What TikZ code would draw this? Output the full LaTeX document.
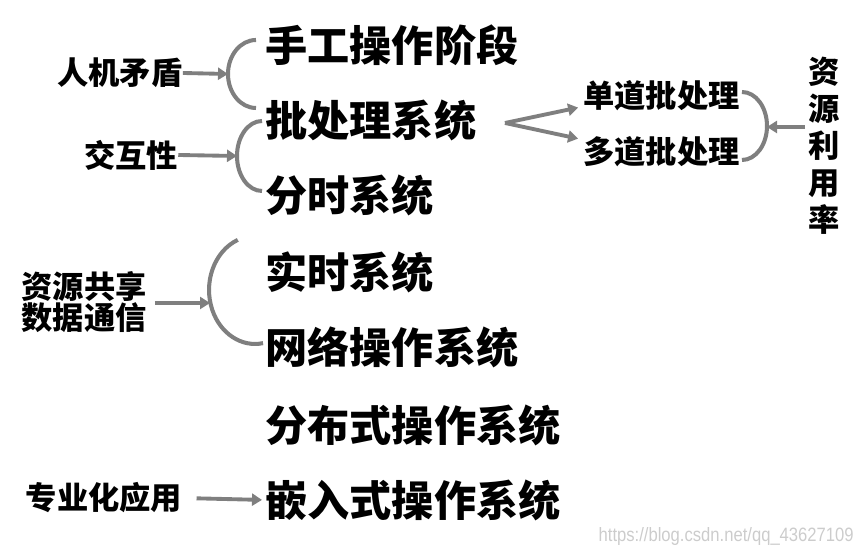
\documentclass[tikz,border=0pt]{standalone}
\usepackage{fontspec}
\setmainfont{Noto Sans CJK SC}[BoldFont={Noto Sans CJK SC Black}]
\newfontfamily\latinfont{Liberation Sans}
\usetikzlibrary{arrows.meta}
\definecolor{meucinza}{RGB}{127,127,127}

\begin{document}
\begin{tikzpicture}[
    x=0.02cm, y=0.02cm,
    etapa/.style={font=\fontsize{24}{28}\selectfont\bfseries, inner sep=0pt, anchor=west},
    causa/.style={font=\fontsize{17.8}{20}\selectfont\bfseries, inner sep=0pt, align=center},
    barr/.style={-{Triangle[length=0.2cm, width=0.24cm]}, line width=2.2pt, draw=meucinza},
    chave/.style={line width=2.3pt, draw=meucinza},
]
\useasboundingbox (0,0) rectangle (860,553);

% ── 操作系统的发展阶段 ──────────────────────────
\node[etapa] (sg)  at (265,508) {手工操作阶段};
\node[etapa] (pcl) at (265,433) {批处理系统};
\node[etapa] (fs)  at (265,358) {分时系统};
\node[etapa] (ss)  at (265,281) {实时系统};
\node[etapa] (wl)  at (265,206) {网络操作系统};
\node[etapa] (fb)  at (265,128) {分布式操作系统};
\node[etapa] (qr)  at (265,53)  {嵌入式操作系统};

% ── 推动因素 ──────────────────────────────────
\node[causa] (rjmd) at (120,480) {人机矛盾};
\node[causa] (jhx)  at (131,398) {交互性};
\node[causa] (zygx) at (84,251)  {资源共享\\[-2pt]数据通信};
\node[causa] (zyh)  at (104,55)  {专业化应用};

% 批处理的两类
\node[causa, anchor=west] (ddp)  at (583,457) {单道批处理};
\node[causa, anchor=west] (dddp) at (583,401) {多道批处理};
\node[causa, font=\fontsize{17.8}{21}\selectfont\bfseries] (zylyl) at (824,407) {资\\源\\利\\用\\率};

% ── 括弧 ─────────────────────────────────────
\draw[chave] (256,513) arc[start angle=90, end angle=270, x radius=28, y radius=34];
\coordinate (c1) at (228,479);
\draw[chave] (262,432) arc[start angle=90, end angle=270, x radius=25, y radius=35];
\coordinate (c2) at (237,397);
\draw[chave] (237.8,313.1) arc[start angle=112, end angle=280, x radius=46, y radius=54];
\coordinate (c3) at (210,250);
\draw[chave] (742,461) arc[start angle=90, end angle=-90, x radius=25, y radius=34];
\coordinate (c4) at (767,426);
\coordinate (garfo) at (505,430);

% ── 箭头 ─────────────────────────────────────
\draw[barr] (rjmd.east) -- (c1);
\draw[barr] (jhx.east) -- (c2);
\draw[barr, shorten <=0.16cm] (zygx.east |- c3) -- (c3);
\draw[barr, shorten <=0.28cm, shorten >=0.06cm] (zyh.east) -- (qr.west);
\draw[barr, shorten >=0.1cm] (garfo) -- ([yshift=-6]ddp.west);
\draw[barr, shorten >=0.1cm] (garfo) -- ([yshift=7]dddp.west);
\draw[barr, shorten <=0.06cm] (zylyl.west |- c4) -- (c4);

% 水印
\node[anchor=east, inner sep=0pt, text=gray!40, font=\latinfont\fontsize{11}{12}\selectfont, xscale=0.86] (sy) at (854,16) {https://blog.csdn.net/qq\_43627109};

\end{tikzpicture}
\end{document}
